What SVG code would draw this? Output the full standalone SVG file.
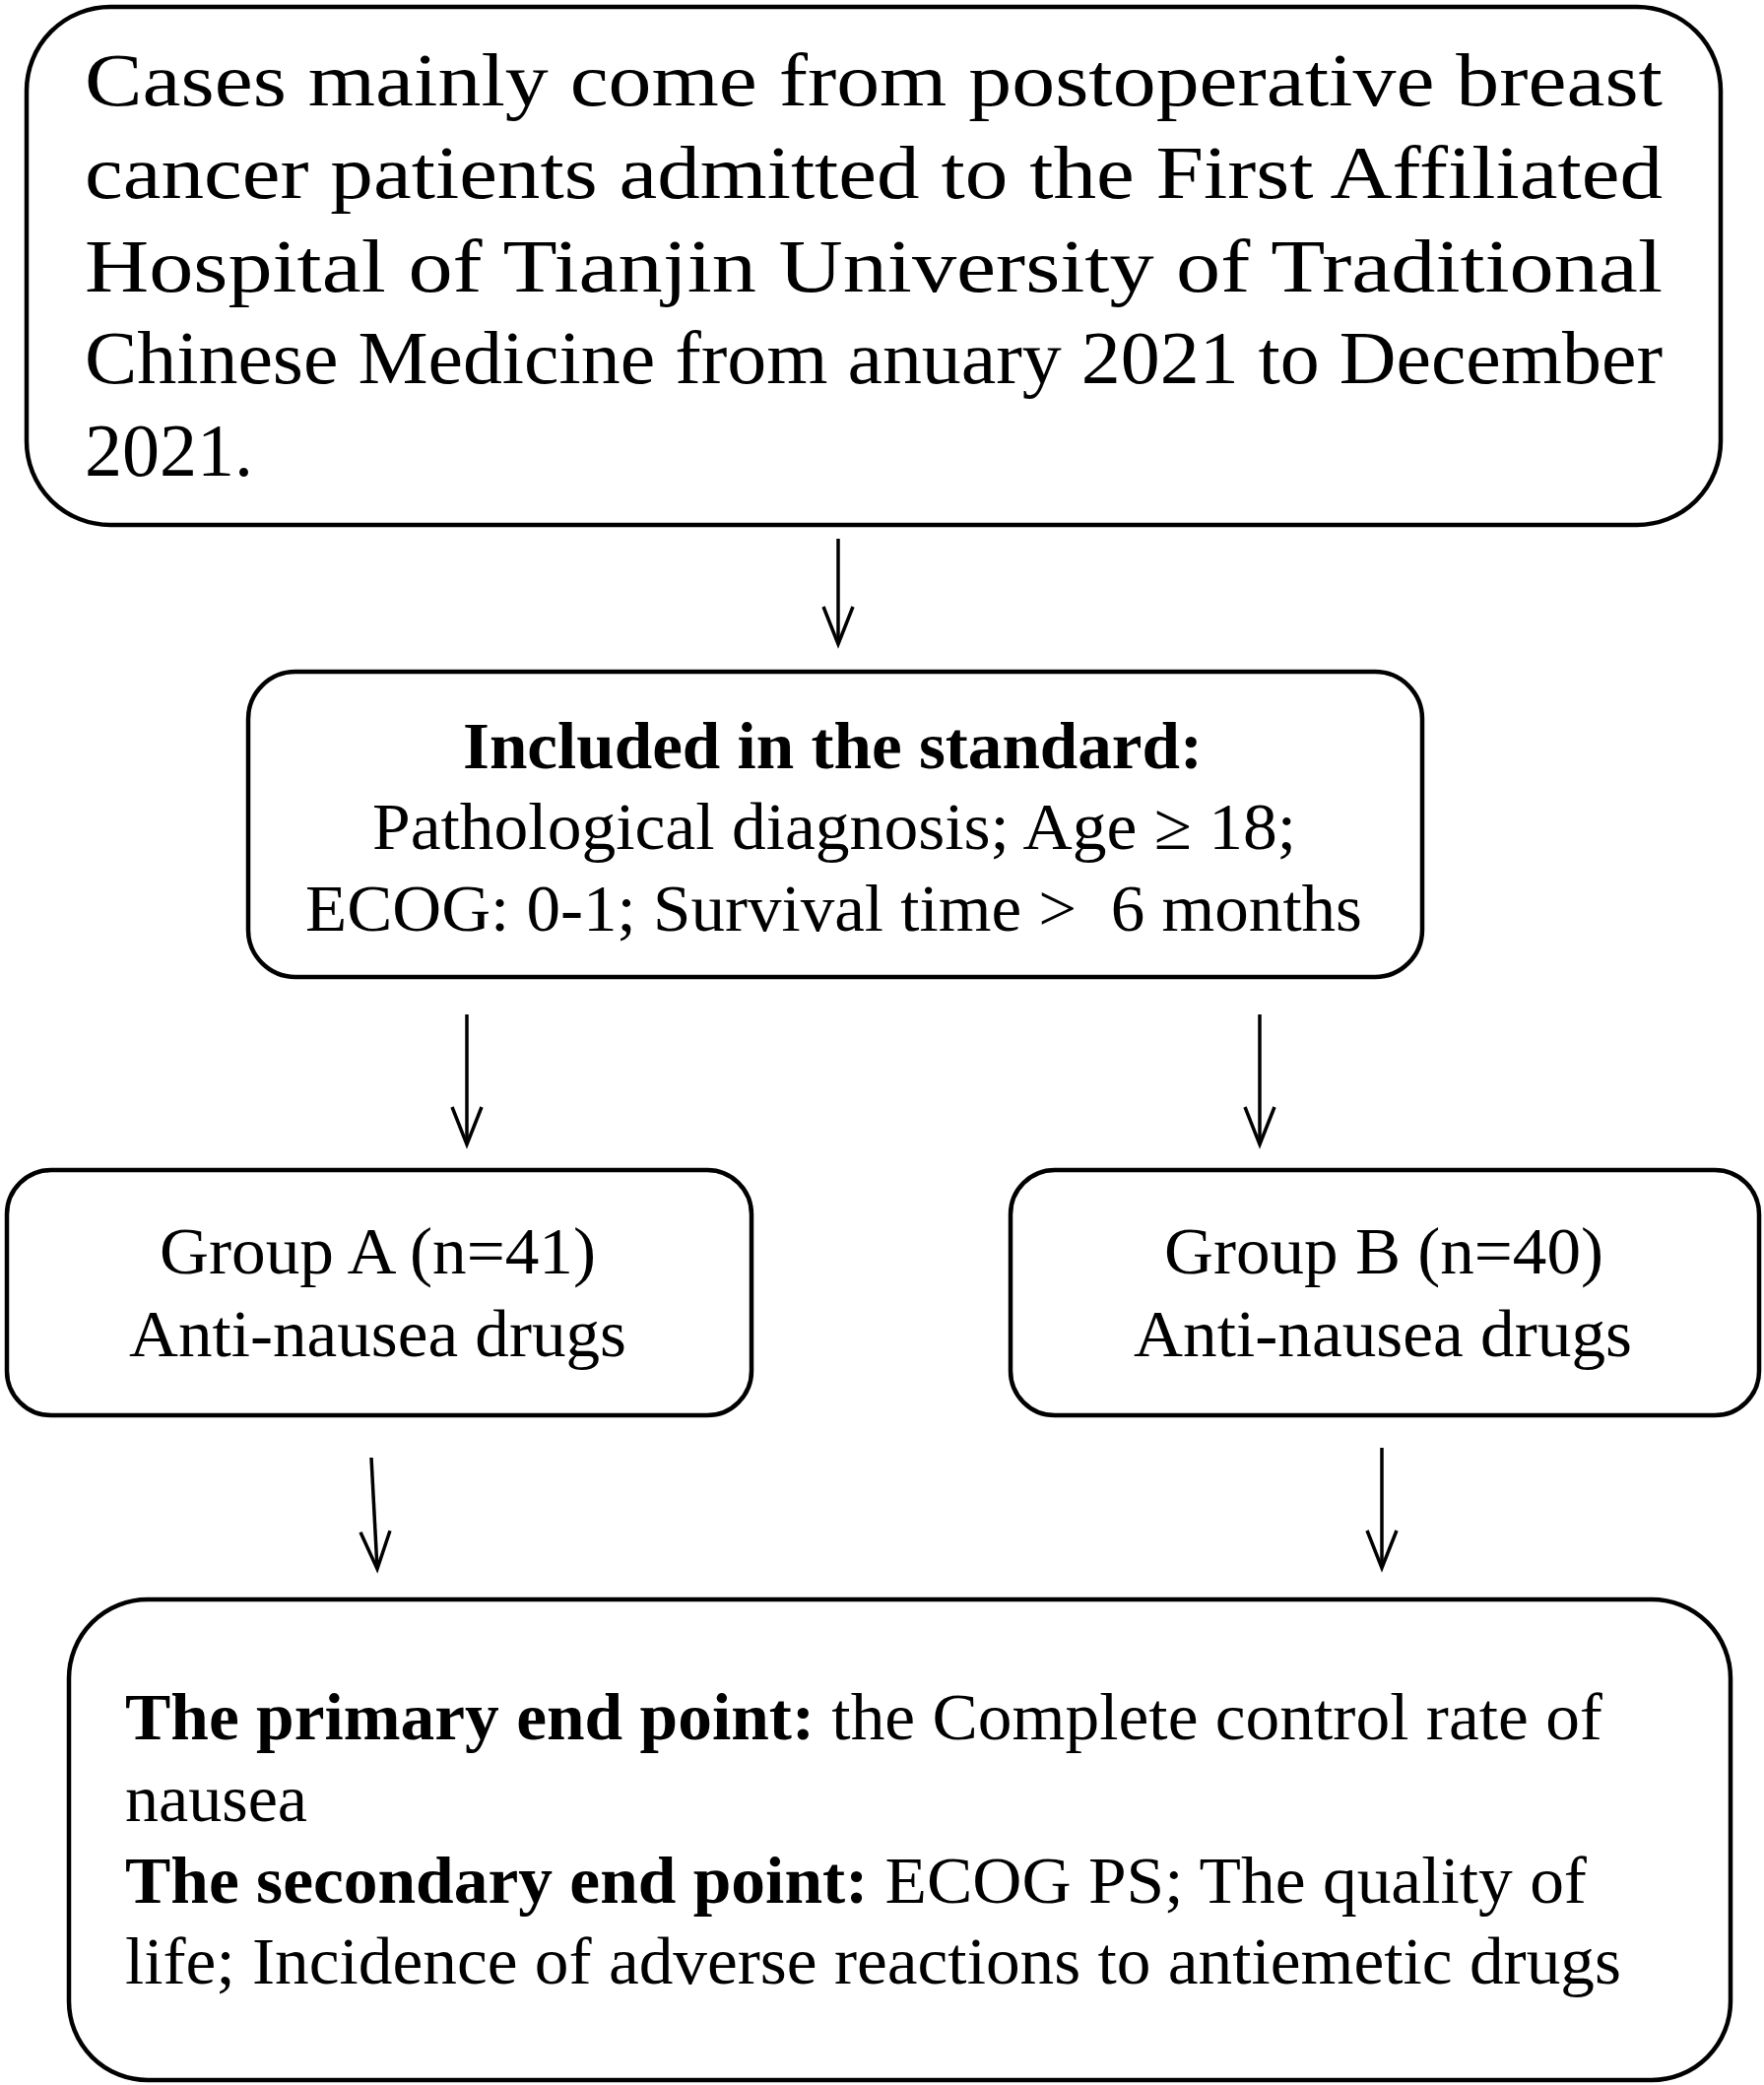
<svg xmlns="http://www.w3.org/2000/svg" width="1791" height="2117" viewBox="0 0 1791 2117">
<style>
.box{fill:#fff;stroke:#000;stroke-width:4.5}
.t{font-family:"Liberation Serif","Times New Roman",serif;fill:#000}
.b{font-weight:bold}
.c{stroke:#000;stroke-width:3.5;fill:none}
</style>
<defs>
<marker id="ah" markerUnits="userSpaceOnUse" markerWidth="48" markerHeight="44" viewBox="-42 -22 48 44" refX="0" refY="0" orient="auto" overflow="visible">
<path d="M-38,-15 L0,0 L-38,15" fill="none" stroke="#000" stroke-width="3.5" stroke-linejoin="miter"/>
</marker>
</defs>
<rect width="1791" height="2117" fill="#fff"/>
<g id="connectors">
<line class="c" x1="851" y1="547" x2="851" y2="654" marker-end="url(#ah)"/>
<line class="c" x1="474" y1="1030" x2="474" y2="1162" marker-end="url(#ah)"/>
<line class="c" x1="1279" y1="1030" x2="1279" y2="1162" marker-end="url(#ah)"/>
<line class="c" x1="377" y1="1480" x2="383" y2="1593" marker-end="url(#ah)"/>
<line class="c" x1="1403" y1="1470" x2="1403" y2="1592" marker-end="url(#ah)"/>
</g>
<g id="node-source">
<rect class="box" x="27" y="7" width="1720" height="526" rx="85" ry="85"/>
<text class="t" font-size="76" x="86" y="107" textLength="1602" lengthAdjust="spacingAndGlyphs">Cases mainly come from postoperative breast</text>
<text class="t" font-size="76" x="86" y="201" textLength="1602" lengthAdjust="spacingAndGlyphs">cancer patients admitted to the First Affiliated</text>
<text class="t" font-size="76" x="86" y="296" textLength="1602" lengthAdjust="spacingAndGlyphs">Hospital of Tianjin University of Traditional</text>
<text class="t" font-size="76" x="86" y="389" textLength="1602" lengthAdjust="spacingAndGlyphs">Chinese Medicine from anuary 2021 to December</text>
<text class="t" font-size="76" x="86" y="483">2021.</text>
</g>
<g id="node-criteria">
<rect class="box" x="252" y="682" width="1192" height="310" rx="48" ry="48"/>
<text class="t b" font-size="68" x="470" y="780" textLength="751" lengthAdjust="spacingAndGlyphs">Included in the standard:</text>
<text class="t" font-size="68" x="378" y="862" textLength="938" lengthAdjust="spacingAndGlyphs">Pathological diagnosis; Age ≥ 18;</text>
<text class="t" font-size="68" x="310" y="945" textLength="1073" lengthAdjust="spacingAndGlyphs" xml:space="preserve">ECOG: 0-1; Survival time &gt;  6 months</text>
</g>
<g id="node-groupA">
<rect class="box" x="7" y="1188" width="756" height="249" rx="45" ry="45"/>
<text class="t" font-size="68" x="162" y="1293" textLength="443" lengthAdjust="spacingAndGlyphs">Group A (n=41)</text>
<text class="t" font-size="68" x="131" y="1377" textLength="505" lengthAdjust="spacingAndGlyphs">Anti-nausea drugs</text>
</g>
<g id="node-groupB">
<rect class="box" x="1026" y="1188" width="760" height="249" rx="45" ry="45"/>
<text class="t" font-size="68" x="1182" y="1293" textLength="446" lengthAdjust="spacingAndGlyphs">Group B (n=40)</text>
<text class="t" font-size="68" x="1151" y="1377" textLength="506" lengthAdjust="spacingAndGlyphs">Anti-nausea drugs</text>
</g>
<g id="node-endpoints">
<rect class="box" x="70" y="1624" width="1687" height="488" rx="80" ry="80"/>
<text class="t" font-size="68" x="127" y="1766" textLength="1500" lengthAdjust="spacingAndGlyphs"><tspan class="b">The primary end point:</tspan> the Complete control rate of</text>
<text class="t" font-size="68" x="127" y="1849">nausea</text>
<text class="t" font-size="68" x="127" y="1932" textLength="1484" lengthAdjust="spacingAndGlyphs"><tspan class="b">The secondary end point:</tspan> ECOG PS; The quality of</text>
<text class="t" font-size="68" x="127" y="2014" textLength="1519" lengthAdjust="spacingAndGlyphs">life; Incidence of adverse reactions to antiemetic drugs</text>
</g>
</svg>
